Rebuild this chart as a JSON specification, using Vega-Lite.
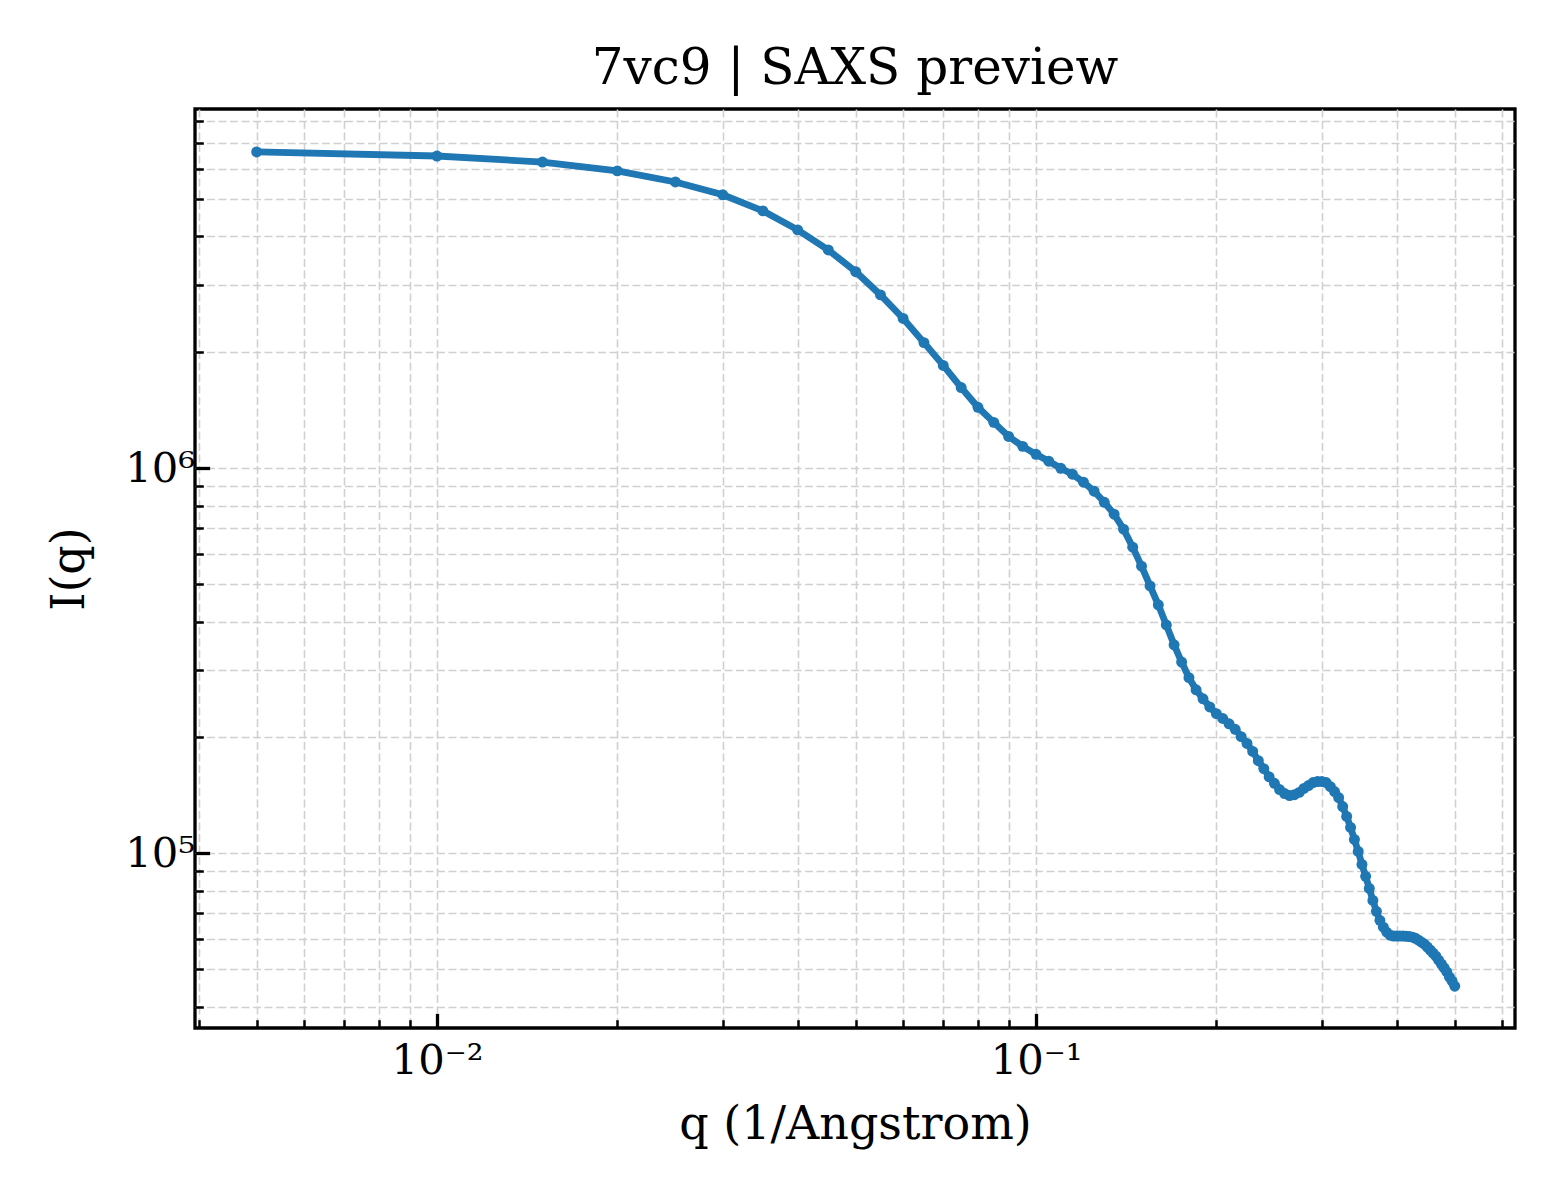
{
  "$schema": "https://vega.github.io/schema/vega-lite/v6.json",
  "autosize": "none",
  "padding": {"left": 195, "top": 109, "right": 45, "bottom": 172},
  "width": 1320,
  "height": 919,
  "background": "white",
  "title": {
    "text": "7vc9 | SAXS preview",
    "font": "DejaVu Serif",
    "fontSize": 50,
    "fontWeight": "normal",
    "color": "black",
    "anchor": "middle",
    "offset": 7
  },
  "data": {
    "values": [
      {"q": 0.005, "I": 6630000}, {"q": 0.01, "I": 6470000}, {"q": 0.015, "I": 6240000},
      {"q": 0.02, "I": 5920000}, {"q": 0.025, "I": 5540000}, {"q": 0.03, "I": 5130000},
      {"q": 0.035, "I": 4660000}, {"q": 0.04, "I": 4160000}, {"q": 0.045, "I": 3690000},
      {"q": 0.05, "I": 3240000}, {"q": 0.055, "I": 2820000}, {"q": 0.06, "I": 2450000},
      {"q": 0.065, "I": 2120000}, {"q": 0.07, "I": 1850000}, {"q": 0.075, "I": 1620000},
      {"q": 0.08, "I": 1440000}, {"q": 0.085, "I": 1316000}, {"q": 0.09, "I": 1210000},
      {"q": 0.095, "I": 1140000}, {"q": 0.1, "I": 1087000}, {"q": 0.105, "I": 1043000},
      {"q": 0.11, "I": 1000000}, {"q": 0.115, "I": 965000}, {"q": 0.12, "I": 920000},
      {"q": 0.125, "I": 872000}, {"q": 0.13, "I": 816000}, {"q": 0.135, "I": 760000},
      {"q": 0.14, "I": 695000}, {"q": 0.145, "I": 624000}, {"q": 0.15, "I": 557000},
      {"q": 0.155, "I": 495000}, {"q": 0.16, "I": 442000}, {"q": 0.165, "I": 392000},
      {"q": 0.17, "I": 348000}, {"q": 0.175, "I": 314000}, {"q": 0.18, "I": 286000},
      {"q": 0.185, "I": 266000}, {"q": 0.19, "I": 252000}, {"q": 0.195, "I": 240000},
      {"q": 0.2, "I": 230500}, {"q": 0.205, "I": 224000}, {"q": 0.21, "I": 217000},
      {"q": 0.215, "I": 210000}, {"q": 0.22, "I": 201000}, {"q": 0.225, "I": 193000},
      {"q": 0.23, "I": 184000}, {"q": 0.235, "I": 174000}, {"q": 0.24, "I": 166000},
      {"q": 0.245, "I": 158000}, {"q": 0.25, "I": 152000}, {"q": 0.255, "I": 146500},
      {"q": 0.26, "I": 143000}, {"q": 0.265, "I": 141300}, {"q": 0.27, "I": 142000},
      {"q": 0.275, "I": 144000}, {"q": 0.28, "I": 147400}, {"q": 0.285, "I": 150000},
      {"q": 0.29, "I": 152700}, {"q": 0.295, "I": 153600}, {"q": 0.3, "I": 153600},
      {"q": 0.305, "I": 152700}, {"q": 0.31, "I": 149000}, {"q": 0.315, "I": 144700},
      {"q": 0.32, "I": 139600}, {"q": 0.325, "I": 132300}, {"q": 0.33, "I": 124700},
      {"q": 0.335, "I": 116800}, {"q": 0.34, "I": 108700}, {"q": 0.345, "I": 101200},
      {"q": 0.35, "I": 93600}, {"q": 0.355, "I": 87200}, {"q": 0.36, "I": 81100},
      {"q": 0.365, "I": 75500}, {"q": 0.37, "I": 70700}, {"q": 0.375, "I": 67000},
      {"q": 0.38, "I": 64300}, {"q": 0.385, "I": 62400}, {"q": 0.39, "I": 61300},
      {"q": 0.395, "I": 61000}, {"q": 0.4, "I": 61000}, {"q": 0.405, "I": 61000},
      {"q": 0.41, "I": 61000}, {"q": 0.415, "I": 60900}, {"q": 0.42, "I": 60800},
      {"q": 0.425, "I": 60600}, {"q": 0.43, "I": 60200}, {"q": 0.435, "I": 59500},
      {"q": 0.44, "I": 58800}, {"q": 0.445, "I": 58100}, {"q": 0.45, "I": 57100},
      {"q": 0.455, "I": 56100}, {"q": 0.46, "I": 55100}, {"q": 0.465, "I": 54100},
      {"q": 0.47, "I": 52800}, {"q": 0.475, "I": 51600}, {"q": 0.48, "I": 50400},
      {"q": 0.485, "I": 49200}, {"q": 0.49, "I": 47700}, {"q": 0.495, "I": 46600},
      {"q": 0.5, "I": 45200}
    ]
  },
  "mark": {
    "type": "line",
    "color": "#1f77b4",
    "strokeWidth": 6.8,
    "point": {"filled": true, "size": 120, "color": "#1f77b4"}
  },
  "encoding": {
    "x": {
      "field": "q",
      "type": "quantitative",
      "scale": {"type": "log", "domain": [0.003945, 0.6303], "nice": false},
      "axis": {
        "title": "q (1/Angstrom)",
        "values": [0.004, 0.005, 0.006, 0.007, 0.008, 0.009, 0.01, 0.02, 0.03, 0.04, 0.05, 0.06, 0.07, 0.08, 0.09, 0.1, 0.2, 0.3, 0.4, 0.5, 0.6],
        "labelExpr": "datum.value === 0.01 ? '10⁻²' : datum.value === 0.1 ? '10⁻¹' : ''",
        "tickSize": {"condition": {"test": "datum.value === 0.01 || datum.value === 0.1", "value": -14.6}, "value": -8.3},
        "tickWidth": {"condition": {"test": "datum.value === 0.01 || datum.value === 0.1", "value": 3.3}, "value": 2.5},
        "labelPadding": 27,
        "titlePadding": 14
      }
    },
    "y": {
      "field": "I",
      "type": "quantitative",
      "scale": {"type": "log", "domain": [35200, 8570000], "nice": false},
      "axis": {
        "title": "I(q)",
        "values": [40000, 50000, 60000, 70000, 80000, 90000, 100000, 200000, 300000, 400000, 500000, 600000, 700000, 800000, 900000, 1000000, 2000000, 3000000, 4000000, 5000000, 6000000, 7000000, 8000000],
        "labelExpr": "datum.value === 100000 ? '10⁵' : datum.value === 1000000 ? '10⁶' : ''",
        "tickSize": {"condition": {"test": "datum.value === 100000 || datum.value === 1000000", "value": -14.6}, "value": -8.3},
        "tickWidth": {"condition": {"test": "datum.value === 100000 || datum.value === 1000000", "value": 3.3}, "value": 2.5},
        "labelPadding": 15,
        "titlePadding": 31
      }
    }
  },
  "config": {
    "view": {"stroke": "black", "strokeWidth": 3.3},
    "axis": {
      "domain": false,
      "grid": true,
      "gridColor": "#d0d0d0",
      "gridDash": [8, 3.5],
      "gridWidth": 1.6,
      "tickColor": "black",
      "labelFont": "DejaVu Serif",
      "labelFontSize": 41.7,
      "labelColor": "black",
      "labelOverlap": false,
      "labelBound": false,
      "labelFlush": false,
      "titleFont": "DejaVu Serif",
      "titleFontSize": 46,
      "titleFontWeight": "normal",
      "titleColor": "black"
    }
  }
}
